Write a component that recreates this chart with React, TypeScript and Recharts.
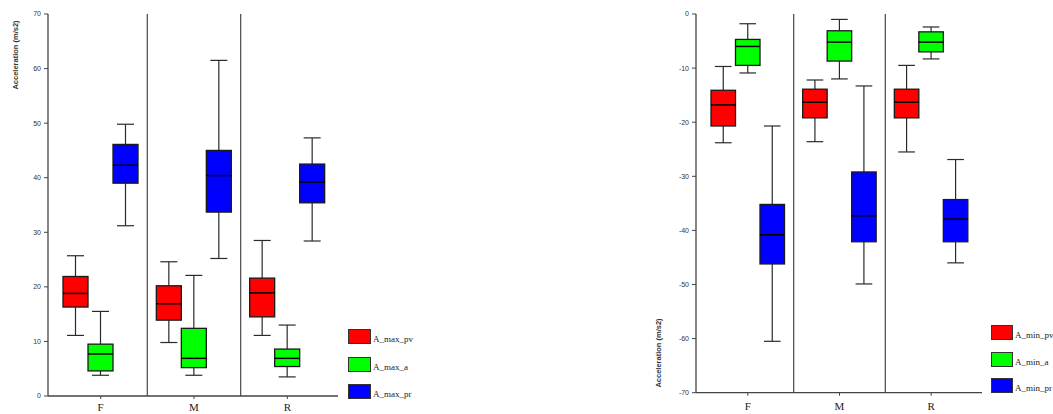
import { ComposedChart, Bar, XAxis, YAxis, ReferenceLine, Legend, Label } from "recharts";

const categories = ["F", "M", "R"];

// five-number summaries per category: [min, q1, median, q3, max]
const aMaxPv = [
  [11.1, 16.3, 18.8, 21.9, 25.7],
  [9.8, 13.9, 16.9, 20.2, 24.6],
  [11.1, 14.5, 18.9, 21.6, 28.5],
];
const aMaxA = [
  [3.8, 4.6, 7.7, 9.5, 15.5],
  [3.8, 5.2, 6.9, 12.4, 22.1],
  [3.5, 5.4, 6.9, 8.6, 13.0],
];
const aMaxPr = [
  [31.2, 39.0, 42.3, 46.1, 49.8],
  [25.2, 33.7, 40.4, 45.0, 61.5],
  [28.4, 35.4, 39.2, 42.5, 47.3],
];
const aMinPv = [
  [-23.8, -20.7, -16.8, -14.1, -9.7],
  [-23.6, -19.2, -16.3, -13.9, -12.2],
  [-25.5, -19.2, -16.3, -13.9, -9.5],
];
const aMinA = [
  [-10.9, -9.5, -6.0, -4.7, -1.8],
  [-12.0, -8.7, -5.2, -3.1, -1.0],
  [-8.3, -7.0, -5.2, -3.3, -2.4],
];
const aMinPr = [
  [-60.5, -46.2, -40.8, -35.2, -20.7],
  [-49.9, -42.1, -37.3, -29.2, -13.3],
  [-46.0, -42.1, -37.9, -34.3, -26.9],
];

const maxNames = ["A_max_pv", "A_max_a", "A_max_pr"];
const minNames = ["A_min_pv", "A_min_a", "A_min_pr"];
const seriesColors = ["#ff0000", "#00ff00", "#0000ff"];
const maxTicks = [0, 10, 20, 30, 40, 50, 60, 70];
const minTicks = [-70, -60, -50, -40, -30, -20, -10, 0];
// a divider sits at the right edge of each of these bands
const separatorAfter = ["F", "M"];
const yTitle = "Acceleration (m/s2)";

function buildRows(series: number[][][]) {
  return categories.map((cat, i) => {
    const row: any = { cat };
    series.forEach((s, k) => {
      row[`s${k}`] = s[i];
      row[`r${k}`] = [s[i][0], s[i][4]];
    });
    return row;
  });
}

function BoxShape(props: any) {
  const { x, y, width, height, stats, color } = props;
  if (!stats) return null;
  const top = Math.min(y, y + height);
  const bot = Math.max(y, y + height);
  const lo = stats[0];
  const hi = stats[4];
  const py = (v: number) => bot - ((v - lo) / (hi - lo)) * (bot - top);
  const cx = x + width / 2;
  const cap = width * 0.34;
  const wk = { stroke: "#2a2a2a", strokeWidth: 1.2 };
  return (
    <g>
      <line x1={cx} x2={cx} y1={py(stats[3])} y2={py(stats[4])} {...wk} />
      <line x1={cx - cap} x2={cx + cap} y1={py(stats[4])} y2={py(stats[4])} {...wk} />
      <line x1={cx} x2={cx} y1={py(stats[1])} y2={py(stats[0])} {...wk} />
      <line x1={cx - cap} x2={cx + cap} y1={py(stats[0])} y2={py(stats[0])} {...wk} />
      <rect
        x={x}
        y={py(stats[3])}
        width={width}
        height={py(stats[1]) - py(stats[3])}
        fill={color}
        stroke="#1a1a1a"
        strokeWidth={1.3}
      />
      <line x1={x} x2={x + width} y1={py(stats[2])} y2={py(stats[2])} stroke="#000" strokeWidth={1.5} />
    </g>
  );
}

function SwatchLegend({ names, pitch, padLeft, swW, swH }: any) {
  return (
    <div style={{ width: 80, paddingLeft: padLeft, boxSizing: "border-box" }}>
      {names.map((n: string, i: number) => (
        <div key={n} style={{ display: "flex", alignItems: "flex-start", height: pitch }}>
          <div style={{ display: "flex", alignItems: "flex-end", height: swH }}>
            <span
              style={{
                display: "inline-block",
                width: swW,
                height: swH,
                background: seriesColors[i],
                border: "1px solid #333",
                boxSizing: "border-box",
              }}
            />
            <span
              style={{
                fontFamily: "'Liberation Serif', serif",
                fontSize: 9,
                lineHeight: "9px",
                color: "#222",
                marginLeft: 2,
                whiteSpace: "nowrap",
              }}
            >
              {n}
            </span>
          </div>
        </div>
      ))}
    </div>
  );
}

function BoxPanel(props: any) {
  const { left, width, series, names, domain, ticks, xHeight, pad, barSize, legendTop, pitch, padLeft, swW, swH, titleX, titleY, tickMarginX } = props;
  const rows = buildRows(series);
  return (
    <div style={{ position: "absolute", left, top: 0 }}>
      <ComposedChart
        width={width}
        height={414}
        data={rows}
        margin={{ top: 14, right: 0, bottom: 0, left: 8 }}
        barGap={0}
      >
        <XAxis
          dataKey="cat"
          padding={pad}
          height={xHeight}
          axisLine={{ stroke: "#444", strokeWidth: 1.3 }}
          tickLine={{ stroke: "#444" }}
          tickSize={3}
          tickMargin={tickMarginX}
          tick={{ fill: "#222", fontSize: 11, fontFamily: "'Liberation Serif', serif" }}
        />
        <YAxis
          domain={domain}
          ticks={ticks}
          interval={0}
          width={40}
          tickSize={4}
          tickMargin={3}
          axisLine={{ stroke: "#444", strokeWidth: 1.3 }}
          tickLine={{ stroke: "#444" }}
          tick={{ fill: "#333", fontSize: 7, fontFamily: "'Liberation Sans', sans-serif" }}
          label={
            <Label
              content={() => (
                <text
                  x={titleX - left}
                  y={titleY}
                  transform={`rotate(-90 ${titleX - left} ${titleY})`}
                  textAnchor="middle"
                  dominantBaseline="central"
                  fontSize={7.5}
                  fontWeight="bold"
                  fontFamily="'Liberation Sans', sans-serif"
                  fill="#333"
                >
                  {yTitle}
                </text>
              )}
            />
          }
        />
        {separatorAfter.map((c) => (
          <ReferenceLine key={c} x={c} position="end" stroke="#555" strokeWidth={1.3} />
        ))}
        {names.map((n: string, k: number) => (
          <Bar
            key={n}
            name={n}
            dataKey={`r${k}`}
            fill={seriesColors[k]}
            barSize={barSize}
            isAnimationActive={false}
            shape={(p: any) => <BoxShape {...p} stats={p.payload[`s${k}`]} color={seriesColors[k]} />}
          />
        ))}
        <Legend
          layout="vertical"
          align="right"
          verticalAlign="bottom"
          width={80}
          wrapperStyle={{ top: legendTop, bottom: "auto" }}
          content={() => <SwatchLegend names={names} pitch={pitch} padLeft={padLeft} swW={swW} swH={swH} />}
        />
      </ComposedChart>
    </div>
  );
}

export default function App() {
  return (
    <div
      style={{
        position: "absolute",
        left: 0,
        top: 0,
        width: 1053,
        height: 414,
        overflow: "hidden",
        background: "#fff",
      }}
    >
      <BoxPanel
        left={0}
        width={418}
        series={[aMaxPv, aMaxA, aMaxPr]}
        names={maxNames}
        domain={[0, 70]}
        ticks={maxTicks}
        xHeight={18}
        pad={{ left: 6, right: 4 }}
        barSize={25}
        legendTop={329}
        pitch={27.5}
        padLeft={10}
        swW={23}
        swH={15}
        titleX={15}
        titleY={55}
        tickMarginX={4}
      />
      <BoxPanel
        left={648}
        width={414}
        series={[aMinPv, aMinA, aMinPr]}
        names={minNames}
        domain={[-70, 0]}
        ticks={minTicks}
        xHeight={21.3}
        pad={{ left: 6, right: 5 }}
        barSize={24.5}
        legendTop={325}
        pitch={26.5}
        padLeft={9}
        swW={22}
        swH={15}
        titleX={658}
        titleY={353}
        tickMarginX={6}
      />
    </div>
  );
}
